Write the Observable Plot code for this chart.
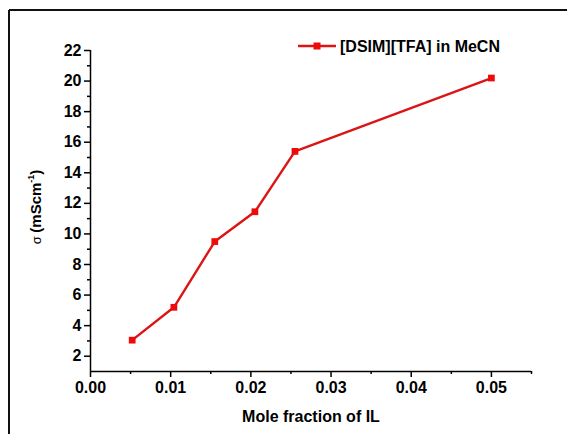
<!DOCTYPE html>
<html>
<head>
<meta charset="utf-8">
<script src="https://cdn.jsdelivr.net/npm/d3@7"></script>
<script src="https://cdn.jsdelivr.net/npm/@observablehq/plot@0.6"></script>
<style>
  html, body { margin: 0; padding: 0; background: #fff; }
  #chart { width: 567px; height: 434px; overflow: hidden; }
</style>
</head>
<body>
<div id="chart"></div>
<script>
const moleFraction = [0.0052, 0.0104, 0.0155, 0.0205, 0.0255, 0.05];
const conductivity = [3.05, 5.2, 9.5, 11.45, 15.4, 20.2];
const seriesName = "[DSIM][TFA] in MeCN";
const xMajorTicks = [0, 0.01, 0.02, 0.03, 0.04, 0.05];
const xMinorTicks = [0.005, 0.015, 0.025, 0.035, 0.045, 0.055];
const yMajorTicks = [2, 4, 6, 8, 10, 12, 14, 16, 18, 20, 22];
const yMinorTicks = [3, 5, 7, 9, 11, 13, 15, 17, 19, 21];

const data = moleFraction.map((x, i) => ({x, y: conductivity[i]}));
const lineColor = "#dc1414";
const markColor = "#ee0a0a";
const font = "'Liberation Sans', Arial, sans-serif";

const chart = Plot.plot({
  width: 567,
  height: 434,
  marginLeft: 90,
  marginRight: 36,
  marginTop: 50,
  marginBottom: 63,
  style: {fontFamily: font, fontSize: "16px", fontWeight: "bold", color: "#000", background: "#fff"},
  x: {domain: [0, 0.055]},
  y: {domain: [1, 22]},
  marks: [
    Plot.axisX({ticks: xMajorTicks, tickSize: 6, tickFormat: d3.format(".2f"), tickPadding: 4, label: null, strokeWidth: 1.5}),
    Plot.axisX({ticks: xMinorTicks, tickSize: 3, tickFormat: () => "", label: null, strokeWidth: 1.5}),
    Plot.axisY({ticks: yMajorTicks, tickSize: 6, tickFormat: d3.format("d"), tickPadding: 3, label: null, strokeWidth: 1.5}),
    Plot.axisY({ticks: yMinorTicks, tickSize: 3, tickFormat: () => "", label: null, strokeWidth: 1.5}),
    Plot.ruleX([0], {strokeWidth: 1.5}),
    Plot.ruleY([1], {strokeWidth: 1.5}),
    Plot.line(data, {x: "x", y: "y", stroke: lineColor, strokeWidth: 2.4}),
    Plot.dot(data, {x: "x", y: "y", symbol: "square", r: 3.8, fill: markColor, stroke: "none"})
  ]
});

document.getElementById("chart").appendChild(chart);
const svg = d3.select(chart);

// outer frame (top & left borders visible)
svg.append("line").attr("x1", 9).attr("x2", 567).attr("y1", 10).attr("y2", 10).attr("stroke", "#111").attr("stroke-width", 2);
svg.append("line").attr("x1", 9).attr("x2", 9).attr("y1", 10).attr("y2", 434).attr("stroke", "#111").attr("stroke-width", 2);

// x axis title
svg.append("text").attr("x", 311).attr("y", 422).attr("text-anchor", "middle")
  .attr("font-family", font).attr("font-size", 16).attr("font-weight", "bold")
  .text("Mole fraction of IL");

// y axis title
const yt = svg.append("text").attr("transform", "translate(41,207) rotate(-90)").attr("text-anchor", "middle")
  .attr("font-family", font).attr("font-size", 15).attr("font-weight", "bold");
yt.append("tspan").attr("font-weight", "normal").attr("font-size", 13).text("σ ");
yt.append("tspan").text("(mScm");
yt.append("tspan").attr("font-size", 9).attr("dy", -7).text("-1");
yt.append("tspan").attr("dy", 7).text(")");

// legend
const lg = svg.append("g");
lg.append("line").attr("x1", 298).attr("x2", 336).attr("y1", 46).attr("y2", 46).attr("stroke", lineColor).attr("stroke-width", 2.4);
lg.append("rect").attr("x", 313.5).attr("y", 42.5).attr("width", 7).attr("height", 7).attr("fill", markColor);
lg.append("text").attr("x", 340).attr("y", 51.5).attr("text-anchor", "start").attr("font-family", font).attr("font-size", 16).attr("font-weight", "bold").text(seriesName);
</script>
</body>
</html>
